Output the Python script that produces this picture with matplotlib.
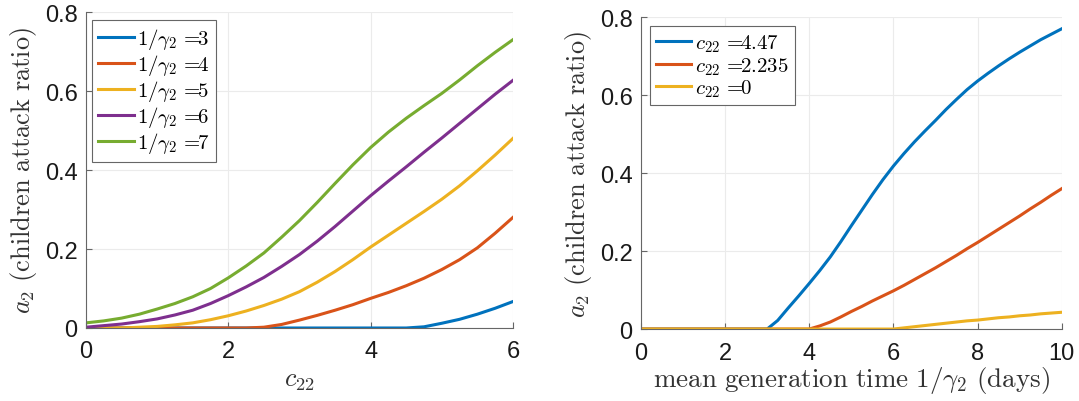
import matplotlib
matplotlib.use("Agg")
import matplotlib.pyplot as plt
import numpy as np

# left panel: a2 vs c22 for several mean generation times (read every 0.25)
c22 = np.linspace(0, 6, 25)
a2_g3 = [0, 0, 0, 0, 0, 0, 0, 0, 0, 0, 0, 0, 0, 0, 0, 0, 0, 0, 0,
         0.003, 0.012, 0.022, 0.035, 0.05, 0.067]
a2_g4 = [0, 0, 0, 0, 0, 0, 0, 0, 0, 0, 0.002, 0.009, 0.02, 0.032, 0.045, 0.059,
         0.075, 0.09, 0.107, 0.126, 0.148, 0.173, 0.203, 0.24, 0.28]
a2_g5 = [0, 0, 0, 0.002, 0.004, 0.008, 0.013, 0.021, 0.031, 0.043, 0.057, 0.073,
         0.092, 0.116, 0.143, 0.173, 0.205, 0.235, 0.265, 0.295, 0.326, 0.36,
         0.398, 0.438, 0.48]
a2_g6 = [0.002, 0.006, 0.01, 0.016, 0.023, 0.033, 0.045, 0.062, 0.082, 0.104,
         0.128, 0.156, 0.186, 0.22, 0.257, 0.296, 0.335, 0.372, 0.408, 0.445,
         0.481, 0.518, 0.555, 0.592, 0.627]
a2_g7 = [0.013, 0.018, 0.025, 0.035, 0.048, 0.062, 0.079, 0.1, 0.127, 0.157,
         0.19, 0.23, 0.272, 0.318, 0.366, 0.413, 0.457, 0.496, 0.531, 0.563,
         0.594, 0.628, 0.664, 0.698, 0.73]
left_labels = ['3', '4', '5', '6', '7']

# right panel: a2 vs mean generation time for three c22 values (read every 0.25)
gen_time = np.linspace(0, 10, 41)
a2_c447 = [0] * 13 + [0.022, 0.054, 0.085, 0.117, 0.15, 0.185, 0.224, 0.265,
                      0.305, 0.345, 0.383, 0.418, 0.45, 0.48, 0.508, 0.535, 0.563,
                      0.589, 0.614, 0.636, 0.656, 0.675, 0.693, 0.71, 0.726,
                      0.742, 0.756, 0.77]
a2_c2235 = [0] * 17 + [0.008, 0.018, 0.031, 0.045, 0.058, 0.072, 0.085, 0.098,
                       0.112, 0.127, 0.142, 0.157, 0.173, 0.189, 0.206, 0.222,
                       0.239, 0.256, 0.273, 0.29, 0.308, 0.325, 0.343, 0.36]
a2_c0 = [0] * 25 + [0.003, 0.006, 0.009, 0.012, 0.015, 0.018, 0.021, 0.023,
                    0.026, 0.029, 0.031, 0.034, 0.036, 0.039, 0.041, 0.043]
right_labels = ['4.47', '2.235', '0']

colors = ['#0072BD', '#D95319', '#EDB120', '#7E2F8E', '#77AC30']

plt.rcParams['mathtext.fontset'] = 'cm'
plt.rcParams['font.family'] = 'Liberation Sans'

fig = plt.figure(figsize=(10.79, 4.02), dpi=100)
ax1 = fig.add_axes([0.0797, 0.1816, 0.3957, 0.786])
ax2 = fig.add_axes([0.594, 0.179, 0.390, 0.776])


def style(ax, xmax, xticks):
    ax.set_xlim(0, xmax)
    ax.set_ylim(0, 0.8)
    ax.set_xticks(xticks)
    ax.set_yticks([0, 0.2, 0.4, 0.6, 0.8])
    ax.set_yticklabels(['0', '0.2', '0.4', '0.6', '0.8'])
    ax.grid(True, color='#ebebeb', lw=0.8)
    ax.set_axisbelow(True)
    for s in ['top', 'right']:
        ax.spines[s].set_visible(False)
    for s in ['left', 'bottom']:
        ax.spines[s].set_color('#666666')
        ax.spines[s].set_linewidth(0.8)
    ax.tick_params(direction='in', length=4, labelsize=17, color='#666666',
                   labelcolor='#1a1a1a')
    ax.tick_params(axis='x', pad=9)
    ax.tick_params(axis='y', pad=6)
    ax.set_ylabel(r'$a_2\ \mathrm{(children\ attack\ ratio)}$', fontsize=19,
                  color='#333333', labelpad=4)


def legend(ax, x0, y0):
    leg = ax.legend(loc='upper left', bbox_to_anchor=(x0, y0), borderaxespad=0,
                    fontsize=15, handlelength=1.7, handletextpad=0.15,
                    labelspacing=0.05, borderpad=0.3, fancybox=False,
                    edgecolor='#666666', framealpha=1)
    leg.get_frame().set_linewidth(0.8)


ys = [a2_g3, a2_g4, a2_g5, a2_g6, a2_g7]
for y, lab, c in zip(ys, left_labels, colors):
    ax1.plot(c22, y, color=c, lw=2.2, label=r'$1/\gamma_2\, =\!\!' + lab + '$')
style(ax1, 6, [0, 2, 4, 6])
ax1.set_xlabel(r'$c_{22}$', fontsize=19, color='#333333', labelpad=4)
legend(ax1, 0.014, 0.975)

ys = [a2_c447, a2_c2235, a2_c0]
for y, lab, c in zip(ys, right_labels, colors):
    ax2.plot(gen_time, y, color=c, lw=2.2, label=r'$c_{22}\, =\!\!' + lab + '$')
style(ax2, 10, [0, 2, 4, 6, 8, 10])
ax2.set_xlabel(r'$\mathrm{mean\ generation\ time}\ 1/\gamma_2\ \mathrm{(days)}$',
               fontsize=19.5, color='#333333', labelpad=0)
legend(ax2, 0.021, 0.971)

fig.savefig('out.png', dpi=100)
